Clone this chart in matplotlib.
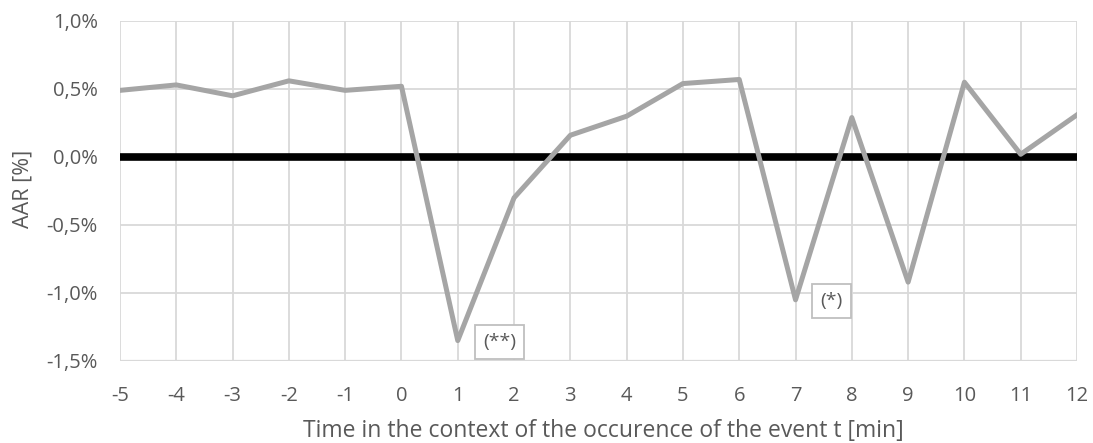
import matplotlib
matplotlib.use("Agg")
import matplotlib.pyplot as plt
from matplotlib.ticker import FuncFormatter

t = [-5, -4, -3, -2, -1, 0, 1, 2, 3, 4, 5, 6, 7, 8, 9, 10, 11, 12]
aar = [0.49, 0.53, 0.45, 0.56, 0.49, 0.52, -1.35, -0.30, 0.16, 0.30, 0.54, 0.57,
       -1.05, 0.29, -0.92, 0.55, 0.02, 0.31]
y_ticks = [-1.5, -1.0, -0.5, 0.0, 0.5, 1.0]
annotations = [("(**)", 1.74, -1.36), ("(*)", 7.64, -1.06)]

plt.rcParams['font.family'] = ['Open Sans', 'DejaVu Sans']
plt.rcParams['axes.unicode_minus'] = False
txt = '#595959'

fig = plt.figure(figsize=(10.93, 4.43), dpi=100)
ax = fig.add_axes([120/1093, 1 - 361/443, (1077-120)/1093, (361-21)/443])

ax.set_xlim(t[0], t[-1])
ax.set_ylim(y_ticks[0], y_ticks[-1])
ax.set_xticks(t)
ax.set_yticks(y_ticks)
ax.grid(True, color='#D9D9D9', linewidth=1.3)
ax.set_axisbelow(True)
for s in ax.spines.values():
    s.set_visible(False)
ax.axhline(y_ticks[0], color='#D9D9D9', linewidth=1.6, zorder=1)

ax.plot([t[0], t[-1]], [0, 0], color='black', linewidth=5.5, solid_capstyle='butt', zorder=2)
ax.plot(t, aar, color='#A5A5A5', linewidth=3.6, solid_joinstyle='round', zorder=3)

ax.yaxis.set_major_formatter(FuncFormatter(lambda v, p: f"{v:.1f}%".replace('.', ',')))
ax.xaxis.set_major_formatter(FuncFormatter(lambda v, p: f"{int(round(v))}"))
ax.tick_params(length=0, labelsize=14.5, labelcolor=txt)
ax.tick_params(axis='y', pad=16)
ax.tick_params(axis='x', pad=18)

for label, x, y in annotations:
    ax.text(x, y, label, ha='center', va='center', fontsize=14, color=txt, zorder=4,
            bbox=dict(boxstyle='square,pad=0.42', facecolor='white', edgecolor='#BFBFBF', linewidth=1.3))

ax.set_ylabel('AAR [%]', fontsize=15.5, color=txt, va='center')
ax.yaxis.set_label_coords(-0.1015, 0.505)
ax.set_xlabel('Time in the context of the occurence of the event t [min]', fontsize=16.5, color=txt, va='baseline')
ax.xaxis.set_label_coords(0.505, -0.2225)

fig.savefig('out.png', dpi=100)
